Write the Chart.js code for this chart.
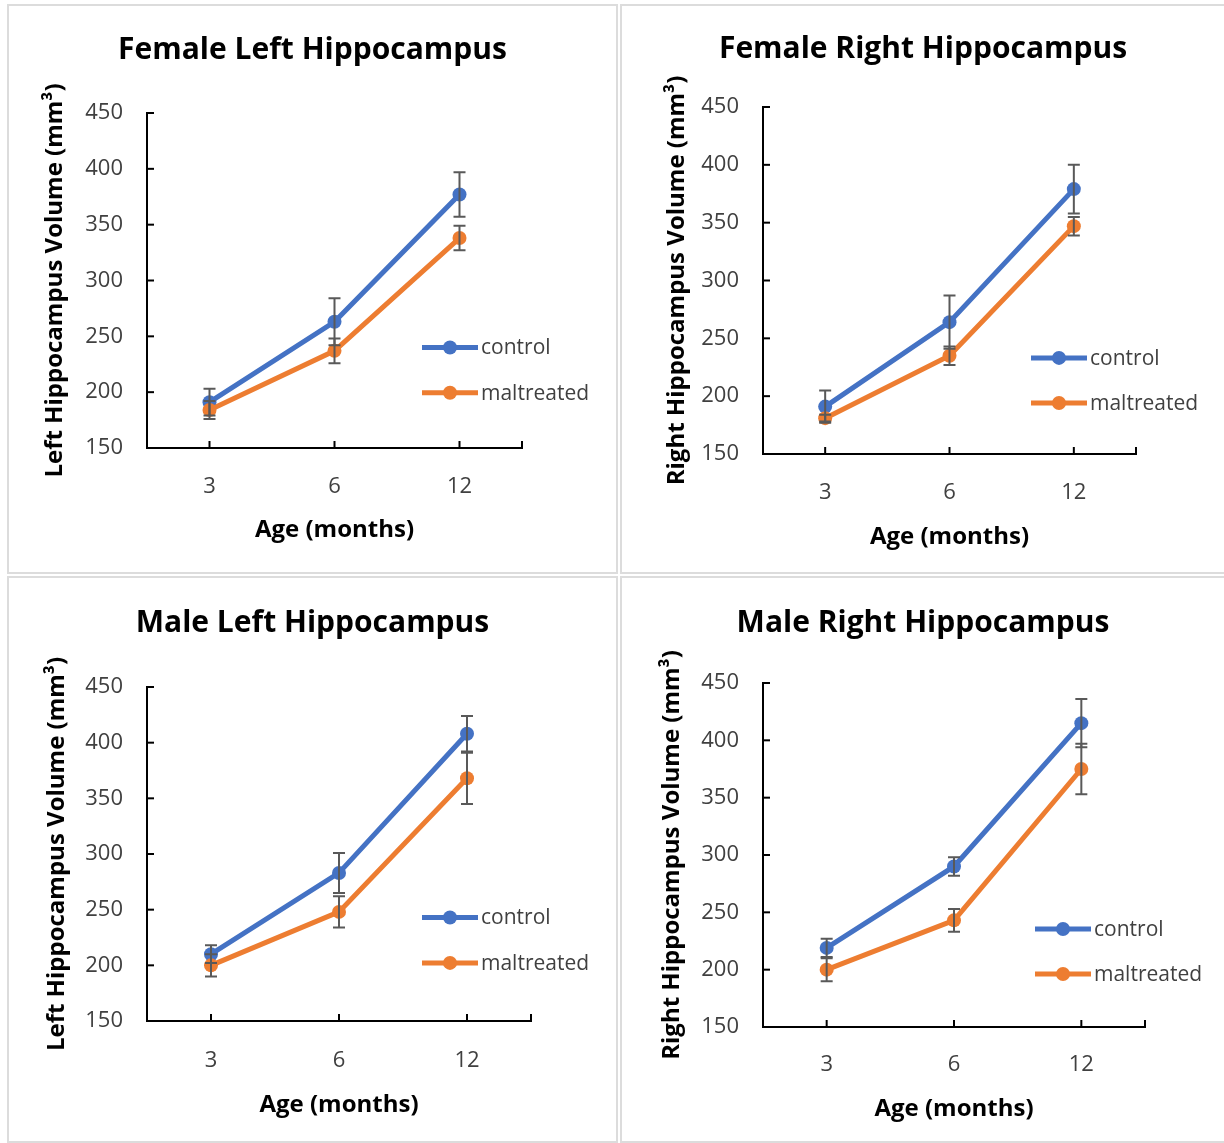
<!DOCTYPE html>
<html>
<head>
<meta charset="utf-8">
<script src="https://cdn.jsdelivr.net/npm/chart.js@4.4.1/dist/chart.umd.min.js"></script>
<style>
    body { margin: 0; background: #fff; }
    .panel {
        position: absolute;
        border: 2px solid #dcdcdc;
        background: #fff;
    }
    .panel canvas { display: block; }
</style>
</head>
<body>
<div class="panel" style="left:7px;top:4px;width:607px;height:566px"><canvas id="fl"></canvas></div>
<div class="panel" style="left:620px;top:4px;width:602px;height:566px"><canvas id="fr"></canvas></div>
<div class="panel" style="left:7px;top:576px;width:607px;height:563px"><canvas id="ml"></canvas></div>
<div class="panel" style="left:620px;top:576px;width:602px;height:563px"><canvas id="mr"></canvas></div>
<script>
const ages = ["3", "6", "12"];
const seriesNames = ["control", "maltreated"];
const yTicks = [150, 200, 250, 300, 350, 400, 450];

// female left
const femaleLeftControl = [191, 263, 377];
const femaleLeftControlErr = [12, 21, 20];
const femaleLeftMalt = [184, 237, 338];
const femaleLeftMaltErr = [8, 11, 11];

// female right
const femaleRightControl = [191, 264, 379];
const femaleRightControlErr = [14, 23, 21];
const femaleRightMalt = [181, 235, 347];
const femaleRightMaltErr = [3, 8, 8];

// male left
const maleLeftControl = [210, 283, 408];
const maleLeftControlErr = [8, 18, 16];
const maleLeftMalt = [200, 248, 368];
const maleLeftMaltErr = [10, 14, 23];

// male right
const maleRightControl = [219, 290, 415];
const maleRightControlErr = [8, 8, 21];
const maleRightMalt = [200, 243, 375];
const maleRightMaltErr = [10, 10, 22];

const BLUE = "#4472C4";
const ORANGE = "#ED7D31";
const FONT = "'Open Sans', Lato, sans-serif";

// error bars, inside tick marks and the legend inside the plot
const extrasPlugin = {
    id: "extras",
    afterDatasetsDraw(chart) {
        const ctx = chart.ctx;
        const x = chart.scales.x;
        const y = chart.scales.y;
        const area = chart.chartArea;
        ctx.save();

        ctx.strokeStyle = "#595959";
        ctx.lineWidth = 2;
        chart.data.datasets.forEach(ds => {
            ds.data.forEach((v, i) => {
                const px = x.getPixelForValue(i);
                const top = y.getPixelForValue(v + ds.err[i]);
                const bot = y.getPixelForValue(v - ds.err[i]);
                ctx.beginPath();
                ctx.moveTo(px, top);
                ctx.lineTo(px, bot);
                ctx.moveTo(px - 6, top);
                ctx.lineTo(px + 6, top);
                ctx.moveTo(px - 6, bot);
                ctx.lineTo(px + 6, bot);
                ctx.stroke();
            });
        });

        ctx.strokeStyle = "#000";
        ctx.lineWidth = 2;
        y.ticks.forEach(t => {
            const py = y.getPixelForValue(t.value);
            ctx.beginPath();
            ctx.moveTo(area.left, py);
            ctx.lineTo(area.left + 7, py);
            ctx.stroke();
        });
        ages.forEach((a, i) => {
            const px = x.getPixelForValue(i);
            ctx.beginPath();
            ctx.moveTo(px, area.bottom);
            ctx.lineTo(px, area.bottom - 7);
            ctx.stroke();
        });
        ctx.beginPath();
        ctx.moveTo(area.right, area.bottom);
        ctx.lineTo(area.right, area.bottom - 7);
        ctx.stroke();

        const lx = area.right - chart.options.legendShift;
        const rows = chart.options.legendRows;
        ctx.font = "21px " + FONT;
        ctx.textBaseline = "middle";
        chart.data.datasets.forEach((ds, i) => {
            const ly = area.top + rows[i] * (area.bottom - area.top);
            ctx.strokeStyle = ds.borderColor;
            ctx.lineWidth = 5;
            ctx.beginPath();
            ctx.moveTo(lx, ly);
            ctx.lineTo(lx + 56, ly);
            ctx.stroke();
            ctx.beginPath();
            ctx.fillStyle = ds.borderColor;
            ctx.arc(lx + 28, ly, 7, 0, Math.PI * 2);
            ctx.fill();
            ctx.fillStyle = "#404040";
            ctx.fillText(ds.label, lx + 59, ly + 1);
        });
        ctx.restore();
    }
};

function makePanel(id, title, yTitle, control, controlErr, malt, maltErr, box) {
    const canvas = document.getElementById(id);
    const W = canvas.parentNode.clientWidth;
    const H = canvas.parentNode.clientHeight;
    canvas.width = W;
    canvas.height = H;

    new Chart(canvas, {
        type: "line",
        data: {
            labels: ages,
            datasets: [{
                label: seriesNames[0],
                data: control,
                err: controlErr,
                borderColor: BLUE,
                backgroundColor: BLUE,
                borderWidth: 5,
                pointRadius: 7,
                pointBorderWidth: 0,
                order: 1
            }, {
                label: seriesNames[1],
                data: malt,
                err: maltErr,
                borderColor: ORANGE,
                backgroundColor: ORANGE,
                borderWidth: 5,
                pointRadius: 7,
                pointBorderWidth: 0,
                order: 0
            }]
        },
        options: {
            responsive: false,
            animation: false,
            legendShift: box.legendShift,
            legendRows: box.legendRows,
            layout: { padding: 0 },
            plugins: {
                legend: { display: false },
                tooltip: { enabled: false },
                title: {
                    display: true,
                    text: title,
                    color: "#000",
                    font: { family: FONT, size: 30, weight: "bold", lineHeight: 1.2 },
                    padding: { top: box.titleY - 18, bottom: box.top - box.titleY - 18 }
                }
            },
            scales: {
                x: {
                    offset: true,
                    grid: { display: false, drawTicks: false },
                    border: { color: "#000", width: 2 },
                    ticks: {
                        color: "#404040",
                        font: { family: FONT, size: 22 },
                        padding: box.xLabelY - box.bottom - 12
                    },
                    title: {
                        display: true,
                        text: "Age (months)",
                        color: "#000",
                        font: { family: FONT, size: 24, weight: "bold", lineHeight: 1.2 },
                        padding: { top: 0, bottom: H - box.xTitleY - 15.4 }
                    },
                    afterFit(scale) {
                        scale.height = H - box.bottom;
                    }
                },
                y: {
                    min: yTicks[0],
                    max: yTicks[yTicks.length - 1],
                    grid: { display: false, drawTicks: false },
                    border: { color: "#000", width: 2 },
                    ticks: {
                        stepSize: 50,
                        color: "#404040",
                        font: { family: FONT, size: 22 },
                        padding: 24
                    },
                    title: {
                        display: true,
                        text: yTitle,
                        color: "#000",
                        font: { family: FONT, size: 24, weight: "bold", lineHeight: 1.2 },
                        padding: { top: box.yTitleX - 14.4, bottom: 0 }
                    },
                    afterFit(scale) {
                        scale.width = box.left;
                    }
                },
                // empty axis that keeps room on the right for the legend
                spacer: {
                    position: "right",
                    display: true,
                    grid: { display: false, drawTicks: false },
                    border: { display: false },
                    ticks: { display: false },
                    afterFit(scale) {
                        scale.width = W - box.right;
                    }
                }
            }
        },
        plugins: [extrasPlugin]
    });
}

makePanel("fl", "Female Left Hippocampus", "Left Hippocampus Volume (mm³)",
    femaleLeftControl, femaleLeftControlErr, femaleLeftMalt, femaleLeftMaltErr,
    { left: 138, right: 513, top: 107, bottom: 442, titleY: 44, yTitleX: 46, xLabelY: 480, xTitleY: 523,
      legendShift: 100, legendRows: [0.70, 0.835] });

makePanel("fr", "Female Right Hippocampus", "Right Hippocampus Volume (mm³)",
    femaleRightControl, femaleRightControlErr, femaleRightMalt, femaleRightMaltErr,
    { left: 141, right: 514, top: 101, bottom: 448, titleY: 43, yTitleX: 55, xLabelY: 486, xTitleY: 530,
      legendShift: 105, legendRows: [0.723, 0.853] });

makePanel("ml", "Male Left Hippocampus", "Left Hippocampus Volume (mm³)",
    maleLeftControl, maleLeftControlErr, maleLeftMalt, maleLeftMaltErr,
    { left: 138, right: 522, top: 109, bottom: 443, titleY: 45, yTitleX: 48, xLabelY: 482, xTitleY: 526,
      legendShift: 109, legendRows: [0.69, 0.826] });

makePanel("mr", "Male Right Hippocampus", "Right Hippocampus Volume (mm³)",
    maleRightControl, maleRightControlErr, maleRightMalt, maleRightMaltErr,
    { left: 141, right: 523, top: 105, bottom: 449, titleY: 45, yTitleX: 50, xLabelY: 486, xTitleY: 530,
      legendShift: 110, legendRows: [0.715, 0.846] });
</script>
</body>
</html>
